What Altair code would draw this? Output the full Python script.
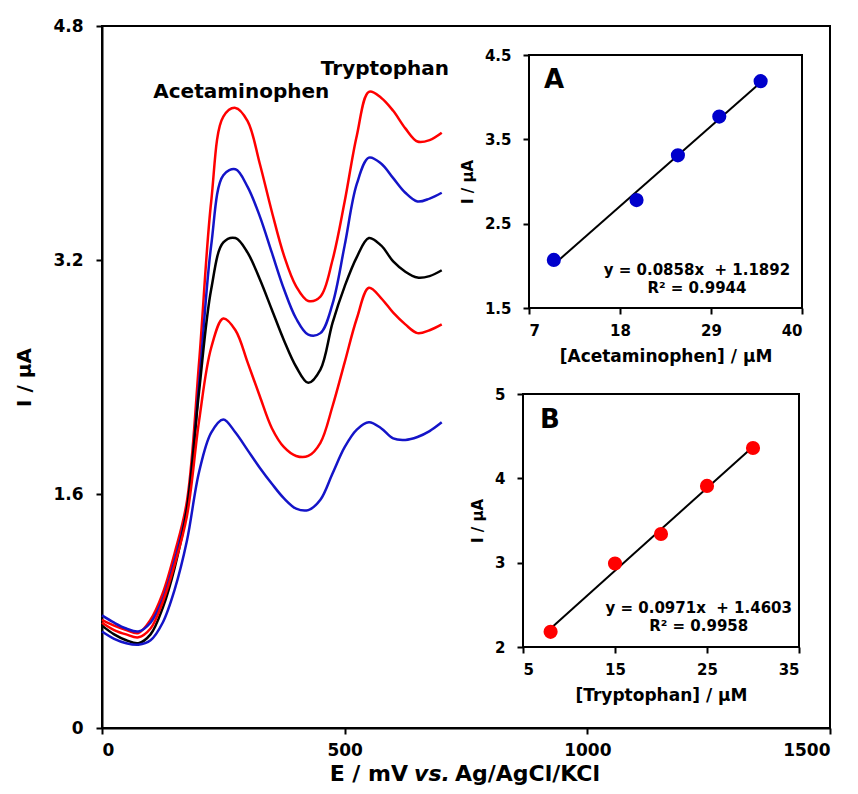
import altair as alt
import pandas as pd

# ---------------- data ----------------
E_mV = [0, 25, 50, 75, 100, 125, 150, 175, 200, 225, 250, 275, 300, 325, 350,
        375, 400, 425, 450, 475, 500, 525, 550, 575, 600, 625, 650, 675, 700]

I_red_top = [0.74, 0.70, 0.67, 0.65, 0.74, 0.92, 1.20, 1.55, 2.50, 3.60, 4.18, 4.24, 4.15, 3.86, 3.53,
             3.23, 3.02, 2.92, 2.95, 3.20, 3.60, 4.05, 4.35, 4.31, 4.22, 4.10, 4.01, 4.02, 4.07]
I_blue_top = [0.77, 0.72, 0.68, 0.66, 0.72, 0.88, 1.15, 1.50, 2.35, 3.30, 3.78, 3.82, 3.70, 3.50, 3.25,
              3.00, 2.80, 2.69, 2.70, 2.90, 3.30, 3.72, 3.90, 3.86, 3.76, 3.66, 3.60, 3.62, 3.66]
I_black = [0.70, 0.64, 0.60, 0.58, 0.64, 0.82, 1.10, 1.50, 2.30, 3.00, 3.32, 3.35, 3.25, 3.07, 2.86,
           2.65, 2.47, 2.36, 2.45, 2.77, 3.02, 3.22, 3.35, 3.30, 3.19, 3.12, 3.08, 3.09, 3.13]
I_red_low = [0.72, 0.67, 0.64, 0.62, 0.68, 0.86, 1.12, 1.45, 2.10, 2.60, 2.80, 2.72, 2.50, 2.27, 2.05,
             1.92, 1.86, 1.86, 1.95, 2.20, 2.50, 2.80, 3.01, 2.94, 2.84, 2.76, 2.70, 2.72, 2.76]
I_blue_low = [0.66, 0.61, 0.58, 0.57, 0.60, 0.72, 0.95, 1.28, 1.75, 2.02, 2.11, 2.02, 1.90, 1.78, 1.67,
              1.57, 1.50, 1.49, 1.56, 1.74, 1.92, 2.04, 2.09, 2.05, 1.98, 1.97, 1.99, 2.03, 2.09]

curve_ids = ["red1", "blue1", "black", "red2", "blue2"]
curve_colors = ["#ff0000", "#1414c8", "#000000", "#ff0000", "#1414c8"]

acet_conc = [10, 20, 25, 30, 35]
acet_I = [2.07, 2.78, 3.31, 3.77, 4.19]
tryp_conc = [8, 15, 20, 25, 30]
tryp_I = [2.18, 2.99, 3.34, 3.91, 4.36]

main_x_ticks = [0, 500, 1000, 1500]
main_y_ticks = [0, 1.6, 3.2, 4.8]
a_x_ticks = [7, 18, 29, 40]
a_y_ticks = [1.5, 2.5, 3.5, 4.5]
b_x_ticks = [5, 15, 25, 35]
b_y_ticks = [2, 3, 4, 5]

FONT = "DejaVu Sans"

# ---------------- main chart ----------------
rows = []
for cid, vals in zip(curve_ids, [I_red_top, I_blue_top, I_black, I_red_low, I_blue_low]):
    for e, i in zip(E_mV, vals):
        rows.append({"E": e, "I": i, "curve": cid})
df = pd.DataFrame(rows)

mx = alt.X("E:Q",
           scale=alt.Scale(domain=[main_x_ticks[0], main_x_ticks[-1]], nice=False, zero=False),
           axis=alt.Axis(values=main_x_ticks, format="d", title=None, tickSize=6, tickWidth=2,
                         domainWidth=2, labelFontSize=17, labelPadding=8))
my = alt.Y("I:Q",
           scale=alt.Scale(domain=[main_y_ticks[0], main_y_ticks[-1]], nice=False, zero=False),
           axis=alt.Axis(values=main_y_ticks,
                         labelExpr="datum.value == 0 ? '0' : format(datum.value, '.1f')",
                         title="I / µA", titleFontSize=20, titlePadding=18,
                         tickSize=6, tickWidth=2, domainWidth=2, labelFontSize=17, labelPadding=13))

curves = alt.Chart(df).mark_line(strokeWidth=2.5, interpolate="catmull-rom").encode(
    x=mx, y=my,
    color=alt.Color("curve:N", scale=alt.Scale(domain=curve_ids, range=curve_colors), legend=None),
)

peak_labels = pd.DataFrame({"E": [287, 583], "I": [4.31, 4.465], "t": ["Acetaminophen", "Tryptophan"]})
peaks = alt.Chart(peak_labels).mark_text(font=FONT, fontSize=20, fontWeight="bold",
                                         align="center", baseline="alphabetic", color="black").encode(
    x=mx, y=my, text="t:N")

def title_piece(txt, align, xpix, italic=False):
    kw = dict(font=FONT, fontSize=22, fontWeight="bold", align=align,
              baseline="alphabetic", color="black")
    if italic:
        kw["fontStyle"] = "italic"
    return alt.Chart(pd.DataFrame({"t": [txt]})).mark_text(**kw).encode(
        x=alt.value(xpix), y=alt.value(755), text="t:N")

xt1 = title_piece("E / mV", "right", 306)
xt2 = title_piece("vs.", "center", 330, italic=True)
xt3 = title_piece("Ag/AgCl/KCl", "left", 353)

main = alt.layer(curves, peaks, xt1, xt2, xt3)

# ---------------- insets ----------------
def inset(conc, cur, xticks, yticks, xrange, yrange, xoff, yoff, yfmt, xtitle, color,
          letter, letter_pos, eq_lines, eq_pos):
    ax = alt.X("c:Q",
               scale=alt.Scale(domain=[xticks[0], xticks[-1]], range=xrange, nice=False, zero=False),
               axis=alt.Axis(orient="bottom", offset=xoff, values=xticks, format="d", domain=False,
                             tickSize=6, tickWidth=2, labelFontSize=15, labelPadding=9,
                             title=xtitle, titleFontSize=17, titlePadding=10))
    ay = alt.Y("i:Q",
               scale=alt.Scale(domain=[yticks[0], yticks[-1]], range=yrange, nice=False, zero=False),
               axis=alt.Axis(orient="left", offset=yoff, values=yticks, format=yfmt, domain=False,
                             tickSize=6, tickWidth=2, labelFontSize=15, labelPadding=12,
                             title="I / µA", titleFontSize=15, titlePadding=9))
    frame_df = pd.DataFrame({"c": [xticks[0]], "c2": [xticks[-1]], "i": [yticks[0]], "i2": [yticks[-1]]})
    frame = alt.Chart(frame_df).mark_rect(fill="white", stroke="black", strokeWidth=2).encode(
        x=ax, x2="c2", y=ay, y2="i2")
    pts_df = pd.DataFrame({"c": conc, "i": cur})
    fit = alt.Chart(pts_df).transform_regression("c", "i").mark_line(color="black", strokeWidth=2).encode(
        x=ax, y=ay)
    pts = alt.Chart(pts_df).mark_circle(size=200, color=color, opacity=1).encode(x=ax, y=ay)
    let = alt.Chart(pd.DataFrame({"c": [letter_pos[0]], "i": [letter_pos[1]], "t": [letter]})).mark_text(
        font=FONT, fontSize=26, fontWeight="bold", align="left", baseline="alphabetic", color="black"
    ).encode(x=ax, y=ay, text="t:N")
    eq = alt.Chart(pd.DataFrame({"c": [eq_pos[0], eq_pos[0]], "i": [eq_pos[1], eq_pos[2]], "t": eq_lines})).mark_text(
        font=FONT, fontSize=15, fontWeight="bold", align="center", baseline="alphabetic", color="black"
    ).encode(x=ax, y=ay, text="t:N")
    return alt.layer(frame, fit, pts, let, eq)

insetA = inset(acet_conc, acet_I, a_x_ticks, a_y_ticks, [427, 700], [282, 29], -420, -427, ".1f",
               "[Acetaminophen] / µM", "#0000cc", "A", (8.8, 4.11),
               ["y = 0.0858x \u00a0+ 1.1892", "R² = 0.9944"], (27.3, 1.89, 1.68))
insetB = inset(tryp_conc, tryp_I, b_x_ticks, b_y_ticks, [421, 697], [621, 368], -81, -421, "d",
               "[Tryptophan] / µM", "#ff0000", "B", (6.85, 4.6),
               ["y = 0.0971x \u00a0+ 1.4603", "R² = 0.9958"], (24.1, 2.40, 2.19))

chart = alt.layer(main, insetA, insetB).resolve_scale(
    x="independent", y="independent", color="independent"
).properties(
    width=728, height=702,
    autosize=alt.AutoSizeParams(type="none"),
    padding={"left": 94, "top": 18, "right": 20, "bottom": 58},
).configure_view(
    stroke="black", strokeWidth=2
).configure_axis(
    grid=False, labelFont=FONT, titleFont=FONT, labelFontWeight="bold", titleFontWeight="bold",
    labelColor="black", titleColor="black", tickColor="black", domainColor="black"
)

chart.save("out.html", embed_options={"renderer": "svg", "actions": False})
